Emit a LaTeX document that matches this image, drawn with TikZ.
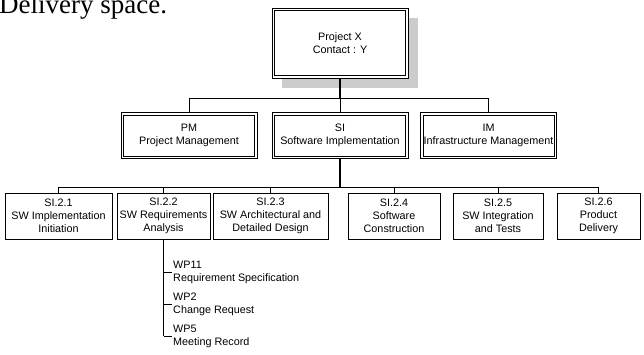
\documentclass[tikz,border=0pt]{standalone}
\usepackage{fontspec}
\usepackage{xcolor}
\usepackage{tikz}
\setmainfont{Liberation Sans}
\newfontfamily\captionserif{Liberation Serif}
\definecolor{shadowgray}{RGB}{204,204,204}

\begin{document}
\begin{tikzpicture}[x=1pt, y=1pt,
    font=\fontsize{10.8}{13}\selectfont,
    twoline/.style={draw, line width=0.7pt, fill=white, align=center, inner sep=1pt,
        path picture={\draw[line width=0.7pt] ([shift={(2.4pt,2.4pt)}]path picture bounding box.south west) rectangle ([shift={(-2.4pt,-2.4pt)}]path picture bounding box.north east);}},
    topbox/.style={twoline, minimum width=136pt, minimum height=70pt},
    mainbox/.style={twoline, minimum width=136pt, minimum height=46pt},
    taskbox/.style={draw, line width=0.7pt, minimum height=46pt, align=center, inner sep=1pt},
    workitem/.style={anchor=west, align=left, inner sep=1pt},
    bus/.style={line width=0.7pt},
    stem/.style={line width=1.5pt}
]
\useasboundingbox (0,0) rectangle (644,-354);

\node[anchor=base west, inner sep=0pt, font=\captionserif\fontsize{27}{30}\selectfont] (caption) at (-1,-13) {Delivery space.};

% shadow behind the project box
\fill[shadowgray] (282,-18) rectangle (418,-88);
\node[topbox] (top) at (340,-43) {Project X\\Contact : Y};

\node[mainbox] (pm) at (189,-135.5) {PM\\Project Management};
\node[mainbox] (si) at (340,-135.5) {SI\\Software Implementation};
\node[mainbox] (im) at (488.5,-135.5) {IM\\Infrastructure Management};

\node[taskbox, minimum width=107pt] (t1) at (58.5,-216) {SI.2.1\\SW Implementation\\Initiation};
\node[taskbox, minimum width=93pt] (t2) at (163.5,-216) {SI.2.2\\SW Requirements\\Analysis};
\node[taskbox, minimum width=115pt] (t3) at (270.5,-216) {SI.2.3\\SW Architectural and\\Detailed Design};
\node[taskbox, minimum width=92pt] (t4) at (394,-216) {SI.2.4\\Software\\Construction};
\node[taskbox, minimum width=90pt] (t5) at (498,-216) {SI.2.5\\SW Integration\\and Tests};
\node[taskbox, minimum width=83pt] (t6) at (598.5,-216) {SI.2.6\\Product\\Delivery};

\node[workitem] (wp1) at (172,-272) {WP11\\Requirement Specification};
\node[workitem] (wp2) at (172,-304) {WP2\\Change Request};
\node[workitem] (wp3) at (172,-336) {WP5\\Meeting Record};

% first level
\coordinate (busa) at (0,-98);
\draw[stem] (top.south) -- (top.south |- busa);
\draw[bus] (pm.north) -- (pm.north |- busa) -- (im.north |- busa) -- (im.north);
\draw[bus] (si.north) -- (si.north |- busa);

% second level
\coordinate (busb) at (0,-187);
\draw[stem] (si.south) -- (si.south |- busb);
\draw[bus] (t1.north) -- (t1.north |- busb) -- (t6.north |- busb) -- (t6.north);
\draw[bus] (t2.north) -- (t2.north |- busb);
\draw[bus] (t3.north) -- (t3.north |- busb);
\draw[bus] (t4.north) -- (t4.north |- busb);
\draw[bus] (t5.north) -- (t5.north |- busb);

% work products
\draw[stem] (t2.south) -- (t2.south |- wp3.west);
\draw[bus] (t2.south |- wp1.west) -- (wp1.west);
\draw[bus] (t2.south |- wp2.west) -- (wp2.west);
\draw[bus] (t2.south |- wp3.west) -- (wp3.west);

\end{tikzpicture}
\end{document}
